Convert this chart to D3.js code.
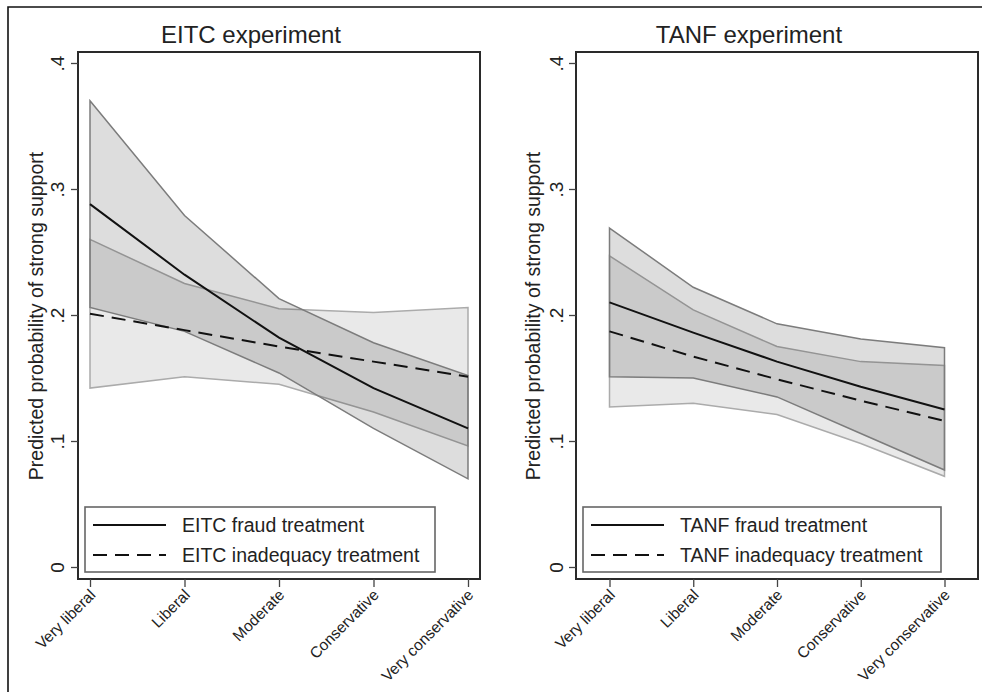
<!DOCTYPE html>
<html>
<head>
<meta charset="utf-8">
<script src="https://cdn.jsdelivr.net/npm/d3@7"></script>
<style>
  body { margin: 0; background: #fff; }
  text { font-family: "Liberation Sans", Arial, sans-serif; fill: #222; }
</style>
</head>
<body>
<div id="main"></div>
<script>
// categories and tick labels
var categories = ["Very liberal", "Liberal", "Moderate", "Conservative", "Very conservative"];
var yTicks = [0, 0.1, 0.2, 0.3, 0.4];
var yTickLabels = ["0", ".1", ".2", ".3", ".4"];

// EITC experiment
var eitcFraud      = [0.288, 0.232, 0.182, 0.142, 0.110];
var eitcFraudLo    = [0.206, 0.187, 0.154, 0.110, 0.070];
var eitcFraudHi    = [0.370, 0.279, 0.213, 0.178, 0.152];
var eitcInadeq     = [0.201, 0.188, 0.175, 0.163, 0.151];
var eitcInadeqLo   = [0.142, 0.151, 0.145, 0.123, 0.096];
var eitcInadeqHi   = [0.260, 0.225, 0.205, 0.202, 0.206];

// TANF experiment
var tanfFraud      = [0.210, 0.186, 0.163, 0.143, 0.125];
var tanfFraudLo    = [0.151, 0.150, 0.135, 0.106, 0.077];
var tanfFraudHi    = [0.269, 0.222, 0.193, 0.181, 0.174];
var tanfInadeq     = [0.187, 0.167, 0.149, 0.132, 0.116];
var tanfInadeqLo   = [0.127, 0.130, 0.121, 0.098, 0.072];
var tanfInadeqHi   = [0.247, 0.204, 0.175, 0.163, 0.160];

var ctx = {
    w: 982,
    h: 692,
    top: 52,
    bottom: 579,
    yTop: 63,
    yZero: 567,
    dash: "14,8"
};

var svg = d3.select("#main").append("svg")
    .attr("width", ctx.w)
    .attr("height", ctx.h);

// outer frame (left + top only, rest is cut off)
svg.append("path")
    .attr("d", "M8,692 L8,7 L982,7")
    .attr("fill", "none")
    .attr("stroke", "#111")
    .attr("stroke-width", 1.6);

var drawPanel = function(p) {
    var x = d3.scalePoint().domain(categories).range([p.left, p.right]).padding(p.pad);
    var y = d3.scaleLinear().domain([0, 0.4]).range([ctx.yZero, ctx.yTop]);
    var g = svg.append("g");

    var rows = function(lo, hi, mid) {
        return categories.map(function(c, i) { return {c: c, lo: lo[i], hi: hi[i], mid: mid[i]}; });
    };
    var inadeq = rows(p.inadeqLo, p.inadeqHi, p.inadeq);
    var fraud = rows(p.fraudLo, p.fraudHi, p.fraud);

    var area = d3.area()
        .x(function(d) { return x(d.c); })
        .y0(function(d) { return y(d.lo); })
        .y1(function(d) { return y(d.hi); });
    var line = function(key) {
        return d3.line().x(function(d) { return x(d.c); }).y(function(d) { return y(d[key]); });
    };

    // inadequacy CI (light band)
    g.append("path").datum(inadeq)
        .attr("d", area)
        .attr("fill", "#e9e9e9")
        .attr("stroke", "#ababab")
        .attr("stroke-width", 1.5);

    // fraud CI (darker, transparent band)
    g.append("path").datum(fraud)
        .attr("d", area)
        .attr("fill", "#000")
        .attr("fill-opacity", 0.135)
        .attr("stroke", "#7c7c7c")
        .attr("stroke-width", 1.5);

    // point estimate lines
    g.append("path").datum(fraud)
        .attr("d", line("mid"))
        .attr("fill", "none")
        .attr("stroke", "#111")
        .attr("stroke-width", 2);
    g.append("path").datum(inadeq)
        .attr("d", line("mid"))
        .attr("fill", "none")
        .attr("stroke", "#111")
        .attr("stroke-width", 2)
        .attr("stroke-dasharray", ctx.dash);

    // plot frame
    g.append("rect")
        .attr("x", p.left).attr("y", ctx.top)
        .attr("width", p.right - p.left).attr("height", ctx.bottom - ctx.top)
        .attr("fill", "none")
        .attr("stroke", "#2a2a2a")
        .attr("stroke-width", 2);

    // y axis ticks + labels
    var yAxis = g.append("g").attr("transform", "translate(" + p.left + ",0)")
        .call(d3.axisLeft(y).tickValues(yTicks).tickSize(7)
            .tickFormat(function(d, i) { return yTickLabels[i]; }));
    yAxis.select(".domain").remove();
    yAxis.selectAll(".tick line").attr("stroke", "#444").attr("stroke-width", 1.3);
    yAxis.selectAll(".tick text")
        .attr("x", null).attr("dy", null)
        .attr("transform", "translate(" + (p.yLabelX - p.left) + ",0) rotate(-90)")
        .attr("text-anchor", "middle")
        .attr("dominant-baseline", "central")
        .style("font-family", "Liberation Sans, Arial, sans-serif")
        .style("font-size", "19px")
        .attr("fill", "#222");

    // x axis ticks + labels
    var xAxis = g.append("g").attr("transform", "translate(0," + ctx.bottom + ")")
        .call(d3.axisBottom(x).tickSize(8));
    xAxis.select(".domain").remove();
    xAxis.selectAll(".tick line").attr("stroke", "#444").attr("stroke-width", 1.3);
    xAxis.selectAll(".tick text")
        .attr("y", null).attr("dy", null)
        .attr("transform", "translate(2,13) rotate(-45)")
        .attr("text-anchor", "end")
        .attr("dominant-baseline", "central")
        .style("font-family", "Liberation Sans, Arial, sans-serif")
        .style("font-size", "15.5px")
        .attr("fill", "#222");

    // axis title
    g.append("text")
        .attr("transform", "translate(" + p.titleX + ",316) rotate(-90)")
        .attr("text-anchor", "middle")
        .attr("dominant-baseline", "central")
        .style("font-size", "19.5px")
        .text("Predicted probability of strong support");

    // panel title
    g.append("text")
        .attr("x", p.headX).attr("y", 43)
        .attr("text-anchor", "middle")
        .style("font-size", "24px")
        .text(p.title);

    // legend
    var leg = g.append("g");
    leg.append("rect")
        .attr("x", p.legX).attr("y", 507)
        .attr("width", p.legW).attr("height", 65)
        .attr("fill", "#fff")
        .attr("stroke", "#666")
        .attr("stroke-width", 1.6);
    var items = [{t: p.name + " fraud treatment", dash: null, y: 525},
                 {t: p.name + " inadequacy treatment", dash: ctx.dash, y: 555}];
    items.forEach(function(it) {
        leg.append("line")
            .attr("x1", p.legX + 8).attr("x2", p.legX + 81)
            .attr("y1", it.y).attr("y2", it.y)
            .attr("stroke", "#111").attr("stroke-width", 2)
            .attr("stroke-dasharray", it.dash);
        leg.append("text")
            .attr("x", p.legX + 97).attr("y", it.y + 7)
            .style("font-size", "19.5px")
            .text(it.t);
    });
};

drawPanel({
    name: "EITC", title: "EITC experiment",
    left: 78, right: 480, pad: 0.127,
    yLabelX: 57, titleX: 36, headX: 251,
    legX: 85, legW: 350,
    fraud: eitcFraud, fraudLo: eitcFraudLo, fraudHi: eitcFraudHi,
    inadeq: eitcInadeq, inadeqLo: eitcInadeqLo, inadeqHi: eitcInadeqHi
});

drawPanel({
    name: "TANF", title: "TANF experiment",
    left: 576, right: 978, pad: 0.4,
    yLabelX: 556, titleX: 533, headX: 749,
    legX: 583, legW: 358,
    fraud: tanfFraud, fraudLo: tanfFraudLo, fraudHi: tanfFraudHi,
    inadeq: tanfInadeq, inadeqLo: tanfInadeqLo, inadeqHi: tanfInadeqHi
});
</script>
</body>
</html>
